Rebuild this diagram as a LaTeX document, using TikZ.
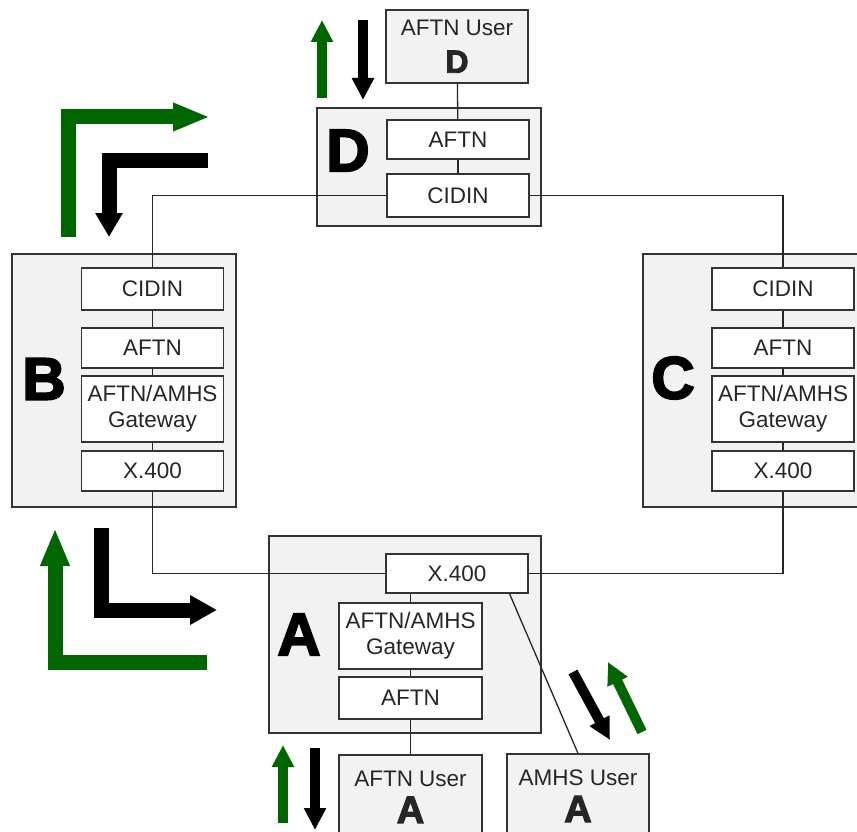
\documentclass[tikz,border=0pt]{standalone}
\usepackage{fontspec}
\setmainfont{Liberation Sans}
\newfontfamily\heavyfont[FakeBold=3]{Liberation Sans Bold}
\usetikzlibrary{arrows.meta}
\definecolor{flowgreen}{RGB}{0,102,0}
\definecolor{boxgray}{RGB}{242,242,242}

\begin{document}
\begin{tikzpicture}[x=1pt,y=-1pt,
  station/.style={draw=black!80, fill=boxgray, line width=1.3pt, inner sep=0pt},
  layer/.style={draw=black!80, fill=white, line width=1.3pt, inner sep=0pt, minimum width=142pt, align=center, text=black!85, font=\fontsize{22.5}{26}\selectfont},
  user/.style={layer, fill=boxgray},
  letter/.style={inner sep=0pt, font=\heavyfont\fontsize{60}{60}\selectfont},
  link/.style={draw=black!85, line width=1.3pt},
  bigflow/.style={line width=15pt, line join=miter},
  smallflow/.style={line width=10pt, -{Triangle[width=21pt,length=22pt]}}]
\useasboundingbox (0,0) rectangle (857,832);
\clip (0,0) rectangle (857,832);

\node[station, minimum width=224pt, minimum height=118pt] (stD) at (429,167) {};
\node[station, minimum width=224pt, minimum height=253pt] (stB) at (124,380.5) {};
\node[station, minimum width=224pt, minimum height=253pt] (stC) at (755,380.5) {};
\node[station, minimum width=272pt, minimum height=197pt] (stA) at (405,634.5) {};

\node[letter] (lD) at (348,150.5) {D};
\node[letter] (lB) at (44,379) {B};
\node[letter] (lC) at (673,378) {C};
\node[letter] (lA) at (299,634.5) {A};

\node[user, minimum height=73pt] (userD) at (457,46.5) {AFTN User\\[11pt]{\heavyfont\fontsize{32}{32}\selectfont D}};
\node[layer, minimum height=39pt] (aftnD) at (458,139.5) {AFTN};
\node[layer, minimum height=43pt] (cidinD) at (458,195.5) {CIDIN};

\node[layer, minimum height=42pt] (cidinB) at (152.5,289) {CIDIN};
\node[layer, minimum height=40pt] (aftnB) at (152.5,348) {AFTN};
\node[layer, minimum height=66pt] (gwB) at (152.5,409) {AFTN/AMHS\\Gateway};
\node[layer, minimum height=40pt] (x400B) at (152.5,471) {X.400};

\node[layer, minimum height=42pt] (cidinC) at (783,289) {CIDIN};
\node[layer, minimum height=40pt] (aftnC) at (783,348) {AFTN};
\node[layer, minimum height=66pt] (gwC) at (783,409) {AFTN/AMHS\\Gateway};
\node[layer, minimum height=40pt] (x400C) at (783,471) {X.400};

\node[layer, minimum height=39pt] (x400A) at (457,573.5) {X.400};
\node[layer, minimum height=66pt, minimum width=143pt] (gwA) at (410.5,636) {AFTN/AMHS\\Gateway};
\node[layer, minimum height=42pt, minimum width=143pt] (aftnA) at (410.5,698) {AFTN};
\node[user, minimum height=84pt, minimum width=143pt] (userA) at (410.5,797) {AFTN User\\[9pt]{\heavyfont\fontsize{38}{38}\selectfont A}};
\node[user, minimum height=84pt] (amhsA) at (578,796) {AMHS User\\[9pt]{\heavyfont\fontsize{38}{38}\selectfont A}};

\path[link] (userD) -- (aftnD);
\path[link] (aftnD) -- (cidinD);
\path[link] (cidinD.west) -| (cidinB.north);
\path[link] (cidinD.east) -| (cidinC.north);

\path[link] (cidinB) -- (aftnB);
\path[link] (aftnB) -- (gwB);
\path[link] (gwB) -- (x400B);
\path[link] (cidinC) -- (aftnC);
\path[link] (aftnC) -- (gwC);
\path[link] (gwC) -- (x400C);

\path[link] (x400B.south) |- (x400A.west);
\path[link] (x400C.south) |- (x400A.east);
\path[link] (gwA.north) -- (gwA.north |- x400A.south);
\path[link] (gwA) -- (aftnA);
\path[link] (aftnA) -- (userA);
\path[link] (x400A.-21) -- (amhsA.north);

\draw[bigflow, flowgreen, -{Triangle[width=26pt,length=37pt]}] (68,237) |- (210,117);
\draw[bigflow, black, -{Triangle[width=26pt,length=24pt]}] (208,161) -| (109,237);
\draw[bigflow, black, -{Triangle[width=28pt,length=27pt]}] (101,528) |- (217,610);
\draw[bigflow, flowgreen, -{Triangle[width=27pt,length=38pt]}] (207,662) -| (55,528);

\draw[smallflow, flowgreen] (322,98) -- (322,20);
\draw[smallflow, black] (363,20) -- (363,100);
\draw[smallflow, flowgreen] (283,823) -- (283,745);
\draw[smallflow, black] (315,748) -- (315,830);
\draw[smallflow, black] (573,672) -- (610,740);
\draw[smallflow, flowgreen] (642,732) -- (608,662);
\end{tikzpicture}
\end{document}
